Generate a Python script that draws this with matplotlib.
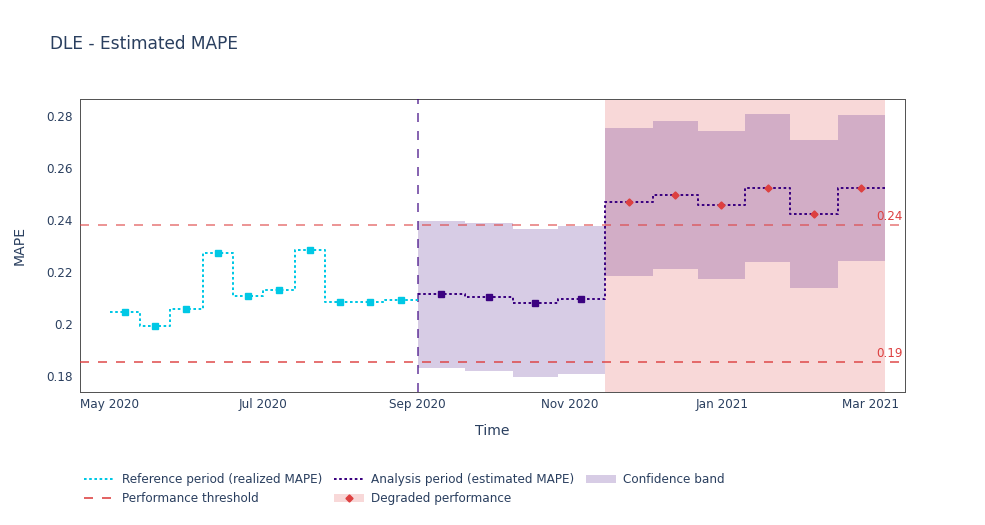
import matplotlib
matplotlib.use("Agg")
import matplotlib.pyplot as plt
import matplotlib.dates as mdates
from matplotlib.lines import Line2D
from matplotlib.patches import Patch
from matplotlib.ticker import FixedLocator, FuncFormatter
import numpy as np
import pandas as pd

plt.rcParams['font.family'] = ['DejaVu Sans']
plt.rcParams['lines.scale_dashes'] = False

# ---------------- data ----------------
ref_bounds = ["2020-05-01", "2020-05-13", "2020-05-25", "2020-06-07", "2020-06-19",
              "2020-07-01", "2020-07-14", "2020-07-26", "2020-08-07", "2020-08-19",
              "2020-09-01"]
ref_mape = [0.2047, 0.1992, 0.2056, 0.2272, 0.2108, 0.2131, 0.2285, 0.2085, 0.2086, 0.2090]

ana_bounds = ["2020-09-01", "2020-09-20", "2020-10-09", "2020-10-27", "2020-11-15",
              "2020-12-04", "2020-12-22", "2021-01-10", "2021-01-28", "2021-02-16",
              "2021-03-07"]
ana_mape = [0.2115, 0.2104, 0.2079, 0.2094, 0.2469, 0.2497, 0.2458, 0.2522, 0.2422, 0.2522]
ana_upper = [0.2397, 0.2387, 0.2364, 0.2376, 0.2754, 0.2781, 0.2742, 0.2807, 0.2707, 0.2805]
ana_lower = [0.1832, 0.1819, 0.1796, 0.1809, 0.2186, 0.2213, 0.2174, 0.2238, 0.2138, 0.2240]

upper_threshold = 0.2381
lower_threshold = 0.1852

x_ticks = ["2020-05-01", "2020-07-01", "2020-09-01", "2020-11-01", "2021-01-01", "2021-03-01"]
x_range = ["2020-04-19", "2021-03-15"]
y_ticks = [0.18, 0.2, 0.22, 0.24, 0.26, 0.28]
y_range = [0.1738, 0.2865]

# ---------------- styles ----------------
CYAN = "#00c8e5"
PURPLE = "#3b0280"
RED = "#dd4040"
TXT = "#2a3f5f"
PX = 0.72  # points per pixel at dpi 100

rb = pd.to_datetime(ref_bounds)
ab = pd.to_datetime(ana_bounds)
rb_n = mdates.date2num(rb)
ab_n = mdates.date2num(ab)
ref_mid = (rb_n[:-1] + rb_n[1:]) / 2
ana_mid = (ab_n[:-1] + ab_n[1:]) / 2

fig = plt.figure(figsize=(9.85, 5.25), dpi=100)
ax = fig.add_axes([80 / 985, 1 - 392 / 525, 825 / 985, 293 / 525])

ax.set_xlim(mdates.date2num(pd.to_datetime(x_range)))
ax.set_ylim(*y_range)

ana_mape_a = np.array(ana_mape)
alert = (ana_mape_a > upper_threshold) | (ana_mape_a < lower_threshold)

# degraded performance rectangles
for i in range(len(ana_mape)):
    if alert[i]:
        ax.axvspan(ab_n[i], ab_n[i + 1], color=RED, alpha=0.2, lw=0, zorder=1)

# confidence band
ax.fill_between(ab_n, list(ana_lower) + [ana_lower[-1]], list(ana_upper) + [ana_upper[-1]],
                step="post", color=PURPLE, alpha=0.2, lw=0, zorder=2)

# thresholds
ax.axhline(upper_threshold, color=RED, lw=2 * PX, alpha=0.55, dashes=(9 * PX, 9 * PX), zorder=3)
ax.axhline(lower_threshold, color=RED, lw=1.6 * PX, alpha=0.9, dashes=(9 * PX, 9 * PX), zorder=3)
for thr in (upper_threshold, lower_threshold):
    ax.annotate(f"{thr:.2f}", xy=(1.0, thr), xycoords=("axes fraction", "data"),
                xytext=(-2 * PX, 2 * PX), textcoords="offset points",
                ha="right", va="bottom", color=RED, fontsize=12 * PX, zorder=6)

# vertical separator
ax.axvline(ab_n[0], color=PURPLE, lw=1.5 * PX, dashes=(9 * PX, 9 * PX), alpha=0.8, zorder=4)

# reference step line
ax.step(rb_n, list(ref_mape) + [ref_mape[-1]], where="post", color=CYAN,
        lw=2 * PX, dashes=(2.6 * PX, 2.6 * PX), zorder=5)
ax.plot(ref_mid, ref_mape, ls="none", marker="s", ms=6 * PX, color=CYAN, zorder=6)

# analysis step line
ax.step(ab_n, list(ana_mape) + [ana_mape[-1]], where="post", color=PURPLE,
        lw=2 * PX, dashes=(2.6 * PX, 2.6 * PX), zorder=5)
ax.plot(ana_mid[~alert], ana_mape_a[~alert], ls="none", marker="s", ms=6 * PX,
        color=PURPLE, zorder=6)
ax.plot(ana_mid[alert], ana_mape_a[alert], ls="none", marker="D", ms=5 * PX,
        color=RED, zorder=6)

# axes styling
ax.xaxis.set_major_locator(FixedLocator(mdates.date2num(pd.to_datetime(x_ticks))))
ax.xaxis.set_major_formatter(mdates.DateFormatter("%b %Y"))
ax.yaxis.set_major_locator(FixedLocator(y_ticks))
ax.yaxis.set_major_formatter(FuncFormatter(lambda v, p: f"{v:g}"))
ax.tick_params(axis="x", length=0, labelsize=12 * PX, labelcolor=TXT, pad=4)
ax.tick_params(axis="y", length=0, labelsize=12 * PX, labelcolor=TXT, pad=5)
for s in ax.spines.values():
    s.set_color("#555555")
    s.set_linewidth(1 * PX)

ax.set_xlabel("Time", fontsize=14 * PX, color=TXT, labelpad=10)
ax.set_ylabel("MAPE", fontsize=14 * PX, color=TXT, labelpad=14)

fig.text(50 / 985, 1 - 44 / 525, "DLE - Estimated MAPE", fontsize=17 * PX, color=TXT,
         ha="left", va="center")

# legend
h_ref = Line2D([], [], color=CYAN, lw=2 * PX, dashes=(2.6 * PX, 2.6 * PX))
h_ana = Line2D([], [], color=PURPLE, lw=2 * PX, dashes=(2.6 * PX, 2.6 * PX))
h_band = Patch(facecolor=PURPLE, alpha=0.2, lw=0)
h_thr = Line2D([], [], color=RED, lw=1.6 * PX, dashes=(9 * PX, 9 * PX))
h_deg = (Patch(facecolor=RED, alpha=0.2, lw=0),
         Line2D([], [], ls="none", marker="D", ms=5 * PX, color=RED))
handles = [h_ref, h_thr, h_ana, h_deg, h_band]
labels = ["Reference period (realized MAPE)", "Performance threshold",
          "Analysis period (estimated MAPE)", "Degraded performance", "Confidence band"]
leg = fig.legend(handles, labels, ncol=3, loc="upper left",
                 bbox_to_anchor=(76 / 985, 1 - 465 / 525), frameon=False,
                 fontsize=12 * PX, handlelength=2.5, handletextpad=0.6,
                 columnspacing=1.0, labelspacing=0.5, borderpad=0.2)
for t in leg.get_texts():
    t.set_color(TXT)

fig.savefig("out.png", dpi=100)
